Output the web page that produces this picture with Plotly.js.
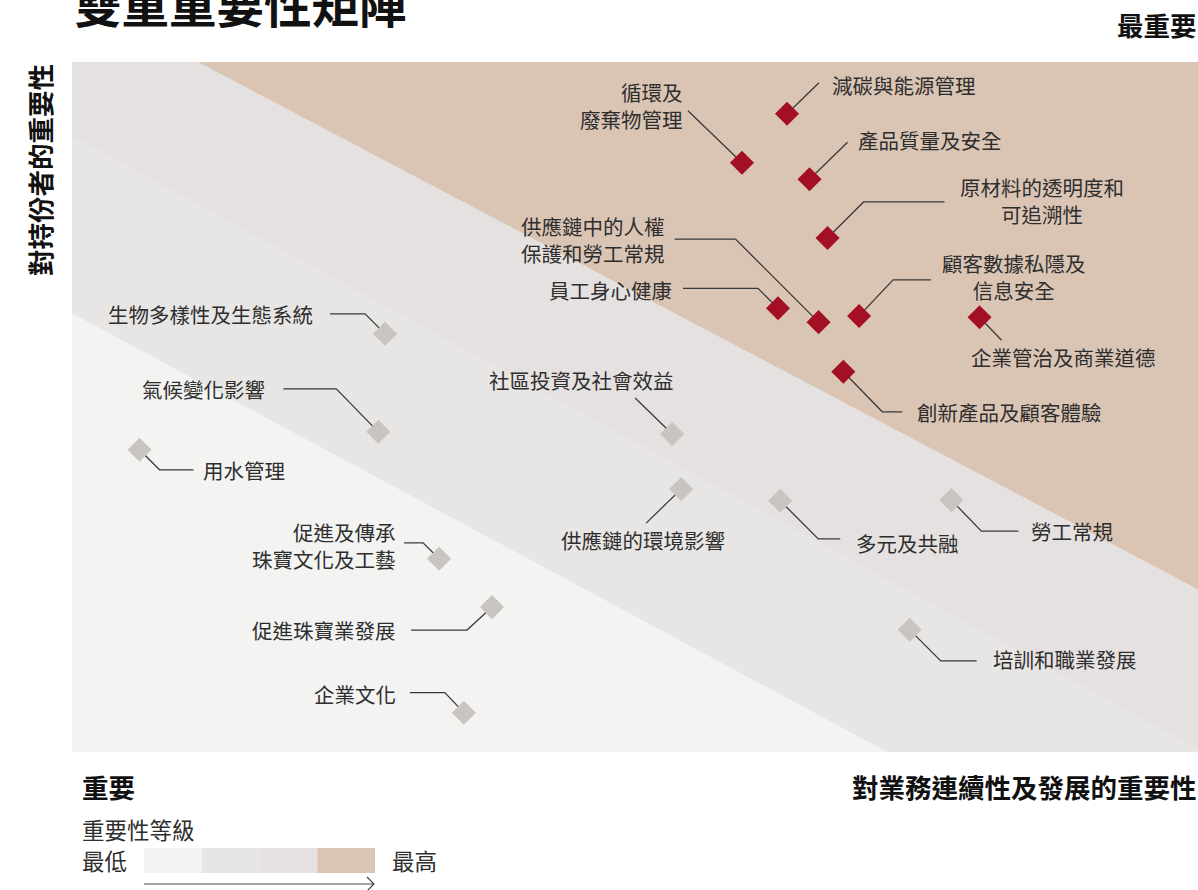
<!DOCTYPE html>
<html>
<head>
<meta charset="utf-8">
<script src="https://cdn.plot.ly/plotly-3.0.1.min.js"></script>
<style>
html,body{margin:0;padding:0;background:#ffffff;}
#chart{width:1198px;height:890px;}
</style>
</head>
<body>
<div id="chart"></div>
<script>
// ---------------- DATA ----------------
const topics = [
  '減碳與能源管理', '循環及<br>廢棄物管理', '產品質量及安全', '原材料的透明度和<br>可追溯性',
  '員工身心健康', '供應鏈中的人權<br>保護和勞工常規', '顧客數據私隱及<br>信息安全', '企業管治及商業道德',
  '創新產品及顧客體驗', '生物多樣性及生態系統', '氣候變化影響', '用水管理', '社區投資及社會效益',
  '供應鏈的環境影響', '多元及共融', '勞工常規', '促進及傳承<br>珠寶文化及工藝', '促進珠寶業發展',
  '培訓和職業發展', '企業文化'
];
// x: 對業務連續性及發展的重要性 (0-10)
const businessImportance = [6.35, 5.95, 6.55, 6.71, 6.27, 6.63, 6.99, 8.06, 6.85, 2.78,
                            2.72, 0.60, 5.33, 5.41, 6.29, 7.81, 3.26, 3.73, 7.44, 3.48];
// y: 對持份者的重要性 (0-10)
const stakeholderImportance = [9.25, 8.54, 8.30, 7.45, 6.43, 6.23, 6.32, 6.30, 5.51, 6.06,
                               4.64, 4.38, 4.61, 3.81, 3.64, 3.65, 2.80, 2.10, 1.77, 0.57];
const tier = ['最重要','最重要','最重要','最重要','最重要','最重要','最重要','最重要','最重要',
              '重要','重要','重要','重要','重要','重要','重要','重要','重要','重要','重要'];
const levelColors = ['#f3f3f2', '#e8e6e4', '#e5e1e0', '#dac5b5'];
const levelTitle = '重要性等級';
const levelLow = '最低';
const levelHigh = '最高';

// ---------------- LAYOUT HELPERS ----------------
const W = 1198, H = 890;
const M = {l: 72, r: 0, t: 62, b: 138};
const PW = W - M.l - M.r, PH = H - M.t - M.b;
const XR = [0, 10], YR = [0, 10];
const pxX = PW / (XR[1] - XR[0]);
const pxY = PH / (YR[1] - YR[0]);
const FONT = '"Noto Sans CJK TC", "Noto Sans CJK SC", "Noto Sans", sans-serif';
const RED = '#a30f23', GREY = '#c9c4c0', LINE = '#3a3a3a', TXT = '#2e2e2e';

// label placement: pixel offsets from marker (dy positive = down)
const labelLayout = [
  {path: [[32,-31]], dx: 44, dy: -29, anchor: 'left'},
  {path: [[-54,-52]], dx: -58, dy: -57, anchor: 'right'},
  {path: [[38,-37]], dx: 47, dy: -39, anchor: 'left'},
  {path: [[36,-36],[117,-36]], dx: 214, dy: -37, anchor: 'center'},
  {path: [[-20,-20],[-95,-20]], dx: -105, dy: -18, anchor: 'right'},
  {path: [[-83,-83],[-144,-83]], dx: -153, dy: -83, anchor: 'right'},
  {path: [[34,-36],[72,-36]], dx: 155, dy: -39, anchor: 'center'},
  {path: [[22,23]], dx: 84, dy: 40, anchor: 'center'},
  {path: [[39,40],[59,40]], dx: 73, dy: 40, anchor: 'left'},
  {path: [[-20,-20],[-55,-20]], dx: -71, dy: -20, anchor: 'right'},
  {path: [[-42,-43],[-95,-43]], dx: -112, dy: -43, anchor: 'right'},
  {path: [[20,20],[54,20]], dx: 62, dy: 20, anchor: 'left'},
  {path: [[-37,-36]], dx: 3, dy: -54, anchor: 'right'},
  {path: [[-35,34]], dx: -38, dy: 51, anchor: 'center'},
  {path: [[38,38],[60,38]], dx: 75, dy: 42, anchor: 'left'},
  {path: [[30,31],[67,31]], dx: 79, dy: 31, anchor: 'left'},
  {path: [[-16,-16],[-35,-16]], dx: -42, dy: -13, anchor: 'right'},
  {path: [[-25,23],[-81,23]], dx: -95, dy: 23, anchor: 'right'},
  {path: [[31,31],[67,31]], dx: 82, dy: 29, anchor: 'left'},
  {path: [[-19,-20],[-54,-20]], dx: -67, dy: -19, anchor: 'right'}
];

// ---------------- TRACES ----------------
const lx = [], ly = [];
topics.forEach((t, i) => {
  const x0 = businessImportance[i], y0 = stakeholderImportance[i];
  lx.push(x0); ly.push(y0);
  labelLayout[i].path.forEach(p => { lx.push(x0 + p[0] / pxX); ly.push(y0 - p[1] / pxY); });
  lx.push(null); ly.push(null);
});
const leaderTrace = {
  x: lx, y: ly, mode: 'lines', type: 'scatter',
  line: {color: LINE, width: 1.3}, hoverinfo: 'skip', showlegend: false
};
function tierTrace(name, color) {
  const idx = tier.map((t, i) => t === name ? i : -1).filter(i => i >= 0);
  return {
    x: idx.map(i => businessImportance[i]), y: idx.map(i => stakeholderImportance[i]),
    text: idx.map(i => topics[i].replace('<br>', '')), name: name,
    mode: 'markers', type: 'scatter', hoverinfo: 'text',
    marker: {symbol: 'diamond', size: 18.5, color: color, line: {width: 0}},
    showlegend: false
  };
}
const traces = [leaderTrace, tierTrace('重要', GREY), tierTrace('最重要', RED)];

// ---------------- ANNOTATIONS ----------------
const annotations = [];
topics.forEach((t, i) => {
  const L = labelLayout[i];
  annotations.push({
    x: businessImportance[i], y: stakeholderImportance[i], xref: 'x', yref: 'y',
    text: t, showarrow: false, xanchor: L.anchor, yanchor: 'middle',
    xshift: L.dx, yshift: -L.dy, align: L.anchor, borderpad: 0,
    font: {family: FONT, size: 20.5, color: TXT}
  });
});
function px2paperX(px) { return (px - M.l) / PW; }
function px2paperY(py) { return (M.t + PH - py) / PH; }
annotations.push(
  {text: '雙重重要性矩陣', x: px2paperX(72), y: px2paperY(3), xref: 'paper', yref: 'paper',
   xanchor: 'left', yanchor: 'middle', showarrow: false,
   font: {family: FONT, size: 47.5, color: '#111', weight: 'bold'}},
  {text: '最重要', x: px2paperX(1199), y: px2paperY(25), xref: 'paper', yref: 'paper',
   xanchor: 'right', yanchor: 'middle', showarrow: false,
   font: {family: FONT, size: 26.5, color: '#111', weight: 'bold'}},
  {text: '重要', x: px2paperX(80), y: px2paperY(786), xref: 'paper', yref: 'paper',
   xanchor: 'left', yanchor: 'middle', showarrow: false,
   font: {family: FONT, size: 26.5, color: '#111', weight: 'bold'}},
  {text: '對業務連續性及發展的重要性', x: px2paperX(1199), y: px2paperY(786), xref: 'paper', yref: 'paper',
   xanchor: 'right', yanchor: 'middle', showarrow: false,
   font: {family: FONT, size: 26.5, color: '#111', weight: 'bold'}},
  {text: '對持份者的重要性', x: px2paperX(39), y: px2paperY(170), xref: 'paper', yref: 'paper',
   xanchor: 'center', yanchor: 'middle', showarrow: false, textangle: -90,
   font: {family: FONT, size: 26.5, color: '#111', weight: 'bold'}},
  {text: levelTitle, x: px2paperX(80), y: px2paperY(829), xref: 'paper', yref: 'paper',
   xanchor: 'left', yanchor: 'middle', showarrow: false,
   font: {family: FONT, size: 22.5, color: TXT}},
  {text: levelLow, x: px2paperX(80), y: px2paperY(860), xref: 'paper', yref: 'paper',
   xanchor: 'left', yanchor: 'middle', showarrow: false,
   font: {family: FONT, size: 22.5, color: TXT}},
  {text: levelHigh, x: px2paperX(390), y: px2paperY(860), xref: 'paper', yref: 'paper',
   xanchor: 'left', yanchor: 'middle', showarrow: false,
   font: {family: FONT, size: 22.5, color: TXT}}
);

// ---------------- SHAPES ----------------
const shapes = [];
// band boundaries (data coords)
const bandPaths = [
  'M0,0 L10,0 L10,10 L0,10 Z',
  'M0,6.36 L0,10 L10,10 L10,0 L7.24,0 Z',
  'M0,8.94 L0,10 L10,10 L10,0.05 Z',
  'M1.119,10 L10,10 L10,2.36 Z'
];
bandPaths.forEach((p, i) => shapes.push({
  type: 'path', xref: 'x', yref: 'y', path: p, fillcolor: levelColors[i],
  line: {width: 0}, layer: 'below'
}));
// rounded corners masks (paper coords)
const r = 14, rx = r / PW, ry = r / PH, k = 0.5523, e = 0.02;
function cornerMask(cx, cy, sx, sy) {
  const P1 = [cx + sx * rx, cy], P2 = [cx, cy + sy * ry];
  const c1 = [cx + sx * rx * (1 - k), cy], c2 = [cx, cy + sy * ry * (1 - k)];
  const O0 = [cx - sx * e, cy - sy * e], O1 = [cx + sx * rx, cy - sy * e], O2 = [cx - sx * e, cy + sy * ry];
  const f = a => a[0].toFixed(5) + ',' + a[1].toFixed(5);
  return {
    type: 'path', xref: 'paper', yref: 'paper', layer: 'below',
    path: 'M' + f(O0) + ' L' + f(O1) + ' L' + f(P1) + ' C' + f(c1) + ' ' + f(c2) + ' ' + f(P2) + ' L' + f(O2) + ' Z',
    fillcolor: '#ffffff', line: {width: 0}
  };
}
shapes.push(cornerMask(0, 1, 1, -1), cornerMask(1, 1, -1, -1), cornerMask(0, 0, 1, 1), cornerMask(1, 0, -1, 1));
// level legend bar
const barX0 = 144, barX1 = 375, barY0 = 848, barY1 = 873;
const segW = (barX1 - barX0) / levelColors.length;
levelColors.forEach((c, i) => shapes.push({
  type: 'rect', xref: 'paper', yref: 'paper',
  x0: px2paperX(barX0 + i * segW), x1: px2paperX(barX0 + (i + 1) * segW),
  y0: px2paperY(barY1), y1: px2paperY(barY0), fillcolor: c, line: {width: 0}
}));
// arrow
const ay = 884;
shapes.push({type: 'line', xref: 'paper', yref: 'paper', x0: px2paperX(144), x1: px2paperX(374),
  y0: px2paperY(ay), y1: px2paperY(ay), line: {color: '#444', width: 1.2}});
shapes.push({type: 'path', xref: 'paper', yref: 'paper',
  path: 'M' + px2paperX(367) + ',' + px2paperY(ay - 7) + ' L' + px2paperX(374) + ',' + px2paperY(ay) +
        ' L' + px2paperX(367) + ',' + px2paperY(ay + 7),
  line: {color: '#444', width: 1.2}});

const layout = {
  width: W, height: H,
  margin: {l: M.l, r: M.r, t: M.t, b: M.b, pad: 0},
  paper_bgcolor: '#ffffff', plot_bgcolor: '#ffffff',
  xaxis: {range: XR, visible: false, fixedrange: true},
  yaxis: {range: YR, visible: false, fixedrange: true},
  showlegend: false,
  shapes: shapes,
  annotations: annotations,
  font: {family: FONT}
};
Plotly.newPlot('chart', traces, layout, {displayModeBar: false, staticPlot: true});
</script>
</body>
</html>
